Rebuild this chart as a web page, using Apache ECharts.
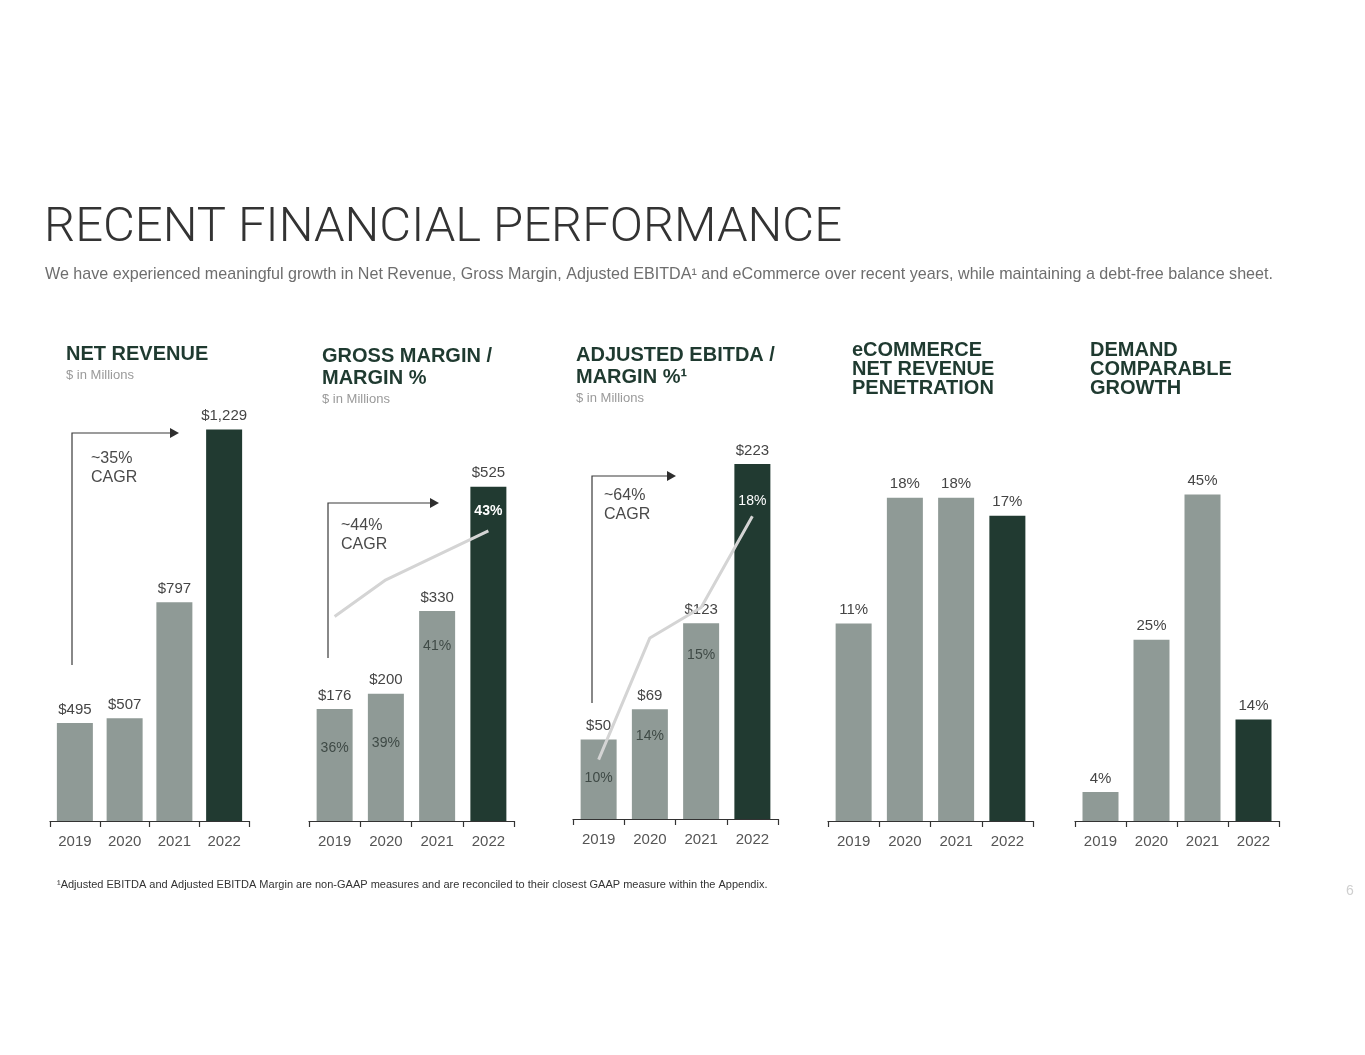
<!DOCTYPE html>
<html>
<head>
<meta charset="utf-8">
<script src="https://cdn.jsdelivr.net/npm/echarts@6/dist/echarts.min.js"></script>
<style>
html,body{margin:0;padding:0;background:#fff;}
#chart{width:1365px;height:1055px;}
</style>
</head>
<body>
<div id="chart"></div>
<script>
// ---- data ----
const years = ['2019', '2020', '2021', '2022'];
const netRevenue = [495, 507, 797, 1229];
const grossMargin = [176, 200, 330, 525];
const grossMarginPct = [36, 39, 41, 43];
const adjEbitda = [50, 69, 123, 223];
const adjEbitdaPct = [10, 14, 15, 18];
const ecommercePct = [11, 18, 18, 17];
const demandCompPct = [4, 25, 45, 14];
const cagrLabels = ['~35%\nCAGR', '~44%\nCAGR', '~64%\nCAGR'];

// ---- styles / layout ----
const FONT = '"Liberation Sans", Arial, Helvetica, sans-serif';
const LIGHT = '#8f9a96';
const DARK = '#213a31';
const HEAD = '#1f3a30';
const TXT = '#454545';
const LINE = '#d4d4d4';
const grossPctDist = [32, 42, 28, 17];
const ebitdaPctDist = [32, 20, 25, 30];

const grids = [
  {left: 50, top: 421, width: 199, height: 400},
  {left: 309, top: 439, width: 205, height: 382},
  {left: 573, top: 421, width: 205, height: 398},
  {left: 828, top: 426, width: 205, height: 395},
  {left: 1075, top: 422, width: 204, height: 399}
];

function xAx(gi) {
  return {
    type: 'category', gridIndex: gi, data: years, boundaryGap: true,
    axisLine: {lineStyle: {color: '#333', width: 1.2}},
    axisTick: {show: true, length: 6, lineStyle: {color: '#333', width: 1.2}},
    axisLabel: {color: '#555', fontSize: 15, margin: 13, fontFamily: FONT},
    splitLine: {show: false}
  };
}
function yAx(gi, min, max, extra) {
  return Object.assign({type: 'value', gridIndex: gi, min: min, max: max, show: false, splitLine: {show: false}}, extra || {});
}
const barColor = p => (p.dataIndex === years.length - 1 ? DARK : LIGHT);

function valueBar(xi, yi, data, fmt) {
  return {
    type: 'bar', xAxisIndex: xi, yAxisIndex: yi, data: data, barWidth: 36,
    itemStyle: {color: barColor}, clip: true,
    label: {show: true, position: 'top', distance: 6, color: TXT, fontSize: 15, fontFamily: FONT, formatter: fmt},
    z: 2
  };
}
function pctOverlay(xi, yi, data, pcts, dists) {
  return {
    type: 'bar', xAxisIndex: xi, yAxisIndex: yi, barWidth: 36, barGap: '-100%',
    itemStyle: {color: 'rgba(0,0,0,0)'}, silent: true,
    data: data.map((v, i) => ({
      value: v,
      label: {
        distance: dists[i],
        color: i === data.length - 1 ? '#ffffff' : '#3f4a46',
        fontWeight: (i === data.length - 1 && pcts === grossMarginPct) ? 'bold' : 'normal'
      }
    })),
    label: {show: true, position: 'insideTop', fontSize: 14, fontFamily: FONT,
      formatter: p => pcts[p.dataIndex] + '%'},
    z: 4
  };
}
function pctLine(xi, yi, pcts) {
  return {
    type: 'line', xAxisIndex: xi, yAxisIndex: yi, data: pcts, symbol: 'none',
    lineStyle: {color: LINE, width: 3}, z: 3, silent: true
  };
}

// graphic helpers
function txt(x, y, text, font, fill, lh) {
  return {type: 'text', x: x, y: y, silent: true,
    style: {text: text, font: font, fill: fill, verticalAlign: 'top', lineHeight: lh || undefined}};
}
function arrow(x, yBottom, yTop, xEnd) {
  return [
    {type: 'polyline', silent: true, shape: {points: [[x, yBottom], [x, yTop], [xEnd - 8, yTop]]},
      style: {stroke: '#3a3a3a', lineWidth: 1.2, fill: null}},
    {type: 'polygon', silent: true, shape: {points: [[xEnd - 9, yTop - 5], [xEnd, yTop], [xEnd - 9, yTop + 5]]},
      style: {fill: '#2e2e2e'}}
  ];
}

const headFont = 'bold 20px ' + FONT;
const subFont = '13px ' + FONT;
const cagrFont = '16px ' + FONT;

const graphics = [].concat(
  [
    txt(44, 204, 'RECENT FINANCIAL PERFORMANCE', '300 49px Roboto, ' + FONT, '#333'),
    txt(45, 267, 'We have experienced meaningful growth in Net Revenue, Gross Margin, Adjusted EBITDA\u00b9 and eCommerce over recent years, while maintaining a debt-free balance sheet.', '16.1px ' + FONT, '#6e6e6e'),
    txt(66, 344, 'NET REVENUE', headFont, HEAD),
    txt(66, 369, '$ in Millions', subFont, '#9a9a9a'),
    txt(322, 345, 'GROSS MARGIN /\nMARGIN %', headFont, HEAD, 22),
    txt(322, 393, '$ in Millions', subFont, '#9a9a9a'),
    txt(576, 344, 'ADJUSTED EBITDA /\nMARGIN %\u00b9', headFont, HEAD, 22),
    txt(576, 392, '$ in Millions', subFont, '#9a9a9a'),
    txt(852, 341, 'eCOMMERCE\nNET REVENUE\nPENETRATION', headFont, HEAD, 19),
    txt(1090, 341, 'DEMAND\nCOMPARABLE\nGROWTH', headFont, HEAD, 19),
    txt(91, 449, cagrLabels[0], cagrFont, '#4a4a4a', 19),
    txt(341, 516, cagrLabels[1], cagrFont, '#4a4a4a', 19),
    txt(604, 486, cagrLabels[2], cagrFont, '#4a4a4a', 19),
    txt(57, 879, '\u00b9Adjusted EBITDA and Adjusted EBITDA Margin are non-GAAP measures and are reconciled to their closest GAAP measure within the Appendix.', '11px ' + FONT, '#333'),
    txt(1346, 884, '6', '14px ' + FONT, '#cfcfcf')
  ],
  arrow(72, 665, 433, 179),
  arrow(328, 658, 503, 439),
  arrow(592, 703, 476, 676)
);

const option = {
  animation: false,
  backgroundColor: '#ffffff',
  textStyle: {fontFamily: FONT},
  grid: grids,
  xAxis: [xAx(0), xAx(1), xAx(2), xAx(3), xAx(4)],
  yAxis: [
    yAx(0, 250, 1250, {startValue: 250}),
    yAx(1, 0, 600),
    yAx(1, 19.3, 50.5),
    yAx(2, 0, 250),
    yAx(2, 8.05, 21.13),
    yAx(3, 0, 22),
    yAx(4, 0, 55)
  ],
  series: [
    valueBar(0, 0, netRevenue, p => '$' + p.value.toLocaleString('en-US')),
    valueBar(1, 1, grossMargin, p => '$' + p.value),
    pctOverlay(1, 1, grossMargin, grossMarginPct, grossPctDist),
    pctLine(1, 2, grossMarginPct),
    valueBar(2, 3, adjEbitda, p => '$' + p.value),
    pctOverlay(2, 3, adjEbitda, adjEbitdaPct, ebitdaPctDist),
    pctLine(2, 4, adjEbitdaPct),
    valueBar(3, 5, ecommercePct, p => p.value + '%'),
    valueBar(4, 6, demandCompPct, p => p.value + '%')
  ],
  graphic: graphics
};

const chart = echarts.init(document.getElementById('chart'), null, {renderer: 'canvas'});
chart.setOption(option);
</script>
</body>
</html>
